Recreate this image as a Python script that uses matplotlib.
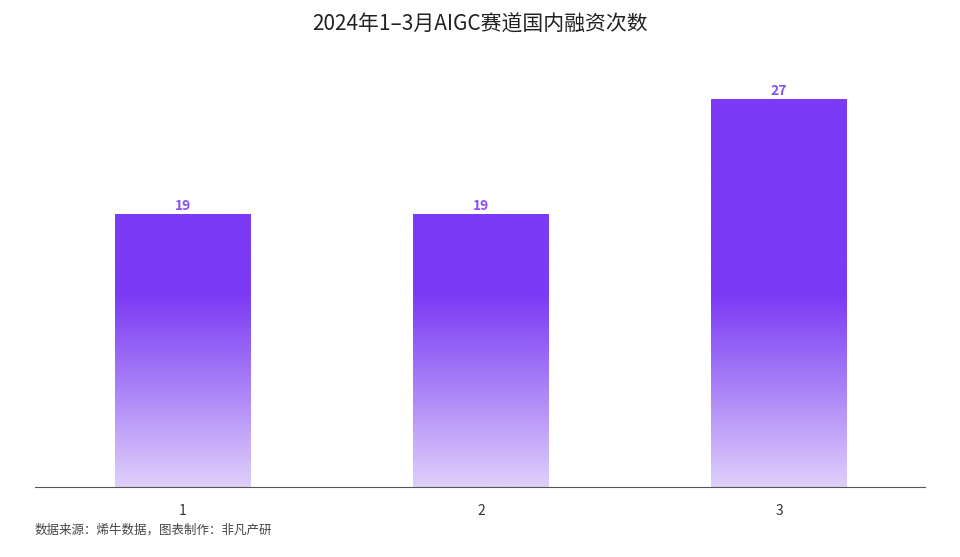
import matplotlib
matplotlib.use("Agg")
import matplotlib.pyplot as plt
import numpy as np
from matplotlib.colors import LinearSegmentedColormap

plt.rcParams['font.family'] = ['Noto Sans CJK SC', 'DejaVu Sans']

categories = ["1", "2", "3"]
values = [19, 19, 27]
title = "2024年1–3月AIGC赛道国内融资次数"
source = "数据来源：烯牛数据，图表制作：非凡产研"

fig = plt.figure(figsize=(9.6, 5.57), dpi=100)
ax = fig.add_axes([35/960, 70/557, 890/960, 427/557])
ymax = 29.75
ax.set_xlim(-0.497, 2.49)
ax.set_ylim(0, ymax)

x = np.arange(len(values))
bars = ax.bar(x, values, width=0.456, color='none', edgecolor='none')

cmap = LinearSegmentedColormap.from_list('g', [(0, '#DFCFFB'), (0.22, '#AC85F7'), (0.45, '#7B3AF5'), (1, '#7B3AF5')])
grad = np.linspace(0, 1, 256).reshape(-1, 1)
for b in bars:
    im = ax.imshow(grad, extent=[-0.5, 2.5, 0, ymax], origin='lower', aspect='auto', cmap=cmap, zorder=2)
    im.set_clip_path(b)
    ax.text(b.get_x() + b.get_width()/2, b.get_height() + 0.1, str(int(b.get_height())),
            ha='center', va='bottom', color='#8A4FF7', fontsize=10, fontweight='bold')
ax.set_xlim(-0.497, 2.49)
ax.set_ylim(0, ymax)

for s in ['top', 'right', 'left']:
    ax.spines[s].set_visible(False)
ax.spines['bottom'].set_color('#555555')
ax.set_yticks([])
ax.set_xticks(x)
ax.set_xticklabels(categories, fontsize=10, color='#333333')
ax.tick_params(axis='x', length=0, pad=12)

fig.text(0.5, 1 - 25/557, title, ha='center', va='center', fontsize=15, color='#222222')
fig.text(35/960, 1 - 530/557, source, ha='left', va='center', fontsize=9, color='#444444')

fig.savefig('out.png', dpi=100)
